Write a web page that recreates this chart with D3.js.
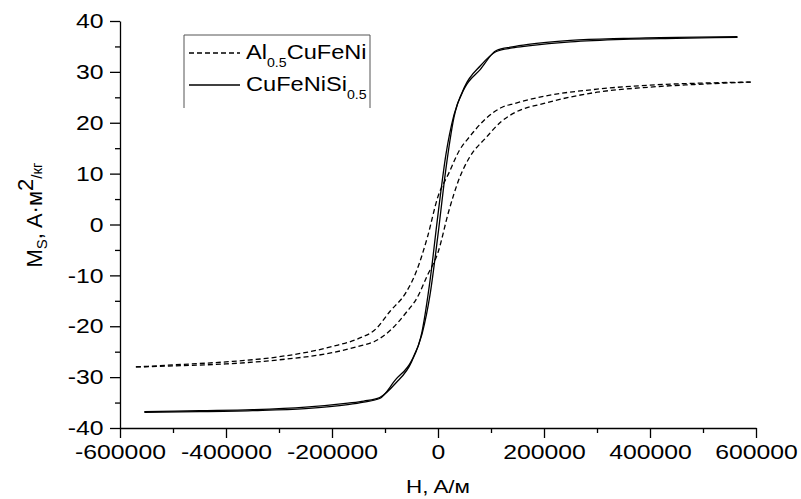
<!DOCTYPE html>
<html>
<head>
<meta charset="utf-8">
<script src="https://cdn.jsdelivr.net/npm/d3@7"></script>
<style>
  body { margin: 0; background: #fff; }
  text { font-family: "Liberation Sans", Arial, sans-serif; fill: #000; }
  .axis path, .axis line { stroke: #000; stroke-width: 1.3; }
</style>
</head>
<body>
<script>
// H values (A/m) for the Al0.5CuFeNi loop
var hAl = [-570000, -500000, -400000, -300000, -200000, -145000, -120000, -90000, -60000, -40000, -20000, 0,
           20000, 40000, 60000, 90000, 120000, 145000, 200000, 300000, 400000, 500000, 590000];
// branch going up (from -sat) and branch coming down (from +sat)
var alUp   = [-28.0, -27.8, -27.4, -26.6, -25.2, -23.8, -23.0, -20.8, -17.3, -14.5, -10.0, -5.5,
              2.5, 9.0, 13.3, 17.0, 20.3, 22.0, 23.8, 26.0, 27.0, 27.6, 28.0];
var alDown = [-28.0, -27.6, -27.0, -26.0, -24.0, -22.2, -20.8, -17.0, -13.3, -9.0, -2.5, 5.5,
              10.0, 14.5, 17.3, 20.8, 23.0, 23.8, 25.2, 26.6, 27.4, 27.8, 28.0];

// H values for the CuFeNiSi0.5 loop
var hSi = [-554000, -450000, -350000, -250000, -170000, -140000, -110000, -80000, -50000, -30000, -15000, 0,
           15000, 30000, 50000, 80000, 110000, 140000, 170000, 250000, 350000, 450000, 565000];
var siUp   = [-36.9, -36.8, -36.6, -36.2, -35.4, -34.9, -34.2, -30.5, -26.8, -21.5, -13.8, -2.0,
              11.0, 21.0, 27.0, 31.2, 34.0, 34.7, 35.1, 35.9, 36.4, 36.6, 36.8];
var siDown = [-36.8, -36.6, -36.4, -35.9, -35.1, -34.7, -34.0, -31.2, -27.0, -21.0, -11.0, 2.0,
              13.8, 21.5, 26.8, 30.5, 34.2, 34.9, 35.4, 36.2, 36.6, 36.8, 36.9];

var xTicks = [-600000, -400000, -200000, 0, 200000, 400000, 600000];
var yTicks = [-40, -30, -20, -10, 0, 10, 20, 30, 40];

var margin = {top: 21, right: 45, bottom: 71, left: 120},
    W = 801, H = 499,
    w = W - margin.left - margin.right,
    h = H - margin.top - margin.bottom;

var stretch = "scale(1.18,1)";

var svg = d3.select("body").append("svg")
    .attr("width", W)
    .attr("height", H);

var g = svg.append("g")
    .attr("transform", "translate(" + margin.left + "," + margin.top + ")");

var x = d3.scaleLinear().domain([-600000, 600000]).range([0, w]);
var y = d3.scaleLinear().domain([-40, 40]).range([h, 0]);

var fmt = function(d) { return String(d); };

// minor ticks
g.append("g").attr("class", "axis")
  .attr("transform", "translate(0," + h + ")")
  .call(d3.axisBottom(x).tickValues(d3.range(-500000, 600000, 200000)).tickSize(5).tickFormat(""))
  .select(".domain").remove();
g.append("g").attr("class", "axis")
  .call(d3.axisLeft(y).tickValues(d3.range(-35, 40, 10)).tickSize(5).tickFormat(""))
  .select(".domain").remove();

// major axes
g.append("g").attr("class", "axis")
  .attr("transform", "translate(0," + h + ")")
  .call(d3.axisBottom(x).tickValues(xTicks).tickSize(10).tickSizeOuter(0).tickPadding(6).tickFormat(fmt));
g.append("g").attr("class", "axis")
  .call(d3.axisLeft(y).tickValues(yTicks).tickSize(10).tickSizeOuter(0).tickPadding(4).tickFormat(fmt));

g.selectAll(".axis text")
  .style("font-size", "21px")
  .style("font-family", "'Liberation Sans', Arial, sans-serif")
  .attr("transform", stretch);

var line = d3.line()
    .x(function(d) { return x(d[0]); })
    .y(function(d) { return y(d[1]); })
    .curve(d3.curveMonotoneX);

function branch(hs, ms) { return hs.map(function(v, i) { return [v, ms[i]]; }); }

var curves = [
  {pts: branch(hAl, alUp), dash: "5,3"},
  {pts: branch(hAl, alDown), dash: "5,3"},
  {pts: branch(hSi, siUp), dash: null},
  {pts: branch(hSi, siDown), dash: null}
];

g.selectAll("path.curve").data(curves).enter().append("path")
  .attr("class", "curve")
  .attr("d", function(d) { return line(d.pts); })
  .attr("fill", "none")
  .attr("stroke", "#000")
  .attr("stroke-width", 1.3)
  .attr("stroke-dasharray", function(d) { return d.dash; });

// axis titles
svg.append("text")
  .attr("transform", "translate(" + (margin.left + x(0)) + ",493) " + stretch)
  .attr("text-anchor", "middle")
  .style("font-size", "19px")
  .text("H, A/м");

var yt = svg.append("text")
  .attr("transform", "translate(42,215) rotate(-90)")
  .attr("text-anchor", "middle")
  .style("font-size", "22px");
yt.append("tspan").text("M");
yt.append("tspan").attr("dy", 5).style("font-size", "15px").text("S");
yt.append("tspan").attr("dy", -5).text(", A·м");
yt.append("tspan").attr("dy", -9).text("2");
yt.append("tspan").attr("dy", 9).style("font-size", "15px").text("/кг");

// legend
var lg = svg.append("g");
lg.append("path")
  .attr("d", "M184,108 V35 H370 V108")
  .attr("fill", "none").attr("stroke", "#555").attr("stroke-width", 1);

var legendItems = [
  {name: "Al", sub: "0.5", tail: "CuFeNi", dash: "5,3", y: 53},
  {name: "CuFeNiSi", sub: "0.5", tail: "", dash: null, y: 85}
];
legendItems.forEach(function(it) {
  lg.append("line")
    .attr("x1", 189).attr("x2", 240).attr("y1", it.y).attr("y2", it.y)
    .attr("stroke", "#000").attr("stroke-width", 1.3)
    .attr("stroke-dasharray", it.dash);
  var t = lg.append("text")
    .attr("transform", "translate(246," + (it.y + 6) + ") " + stretch)
    .style("font-size", "20px");
  t.append("tspan").text(it.name);
  t.append("tspan").attr("dy", 8).style("font-size", "12px").text(it.sub);
  if (it.tail) t.append("tspan").attr("dy", -8).text(it.tail);
});
</script>
</body>
</html>
